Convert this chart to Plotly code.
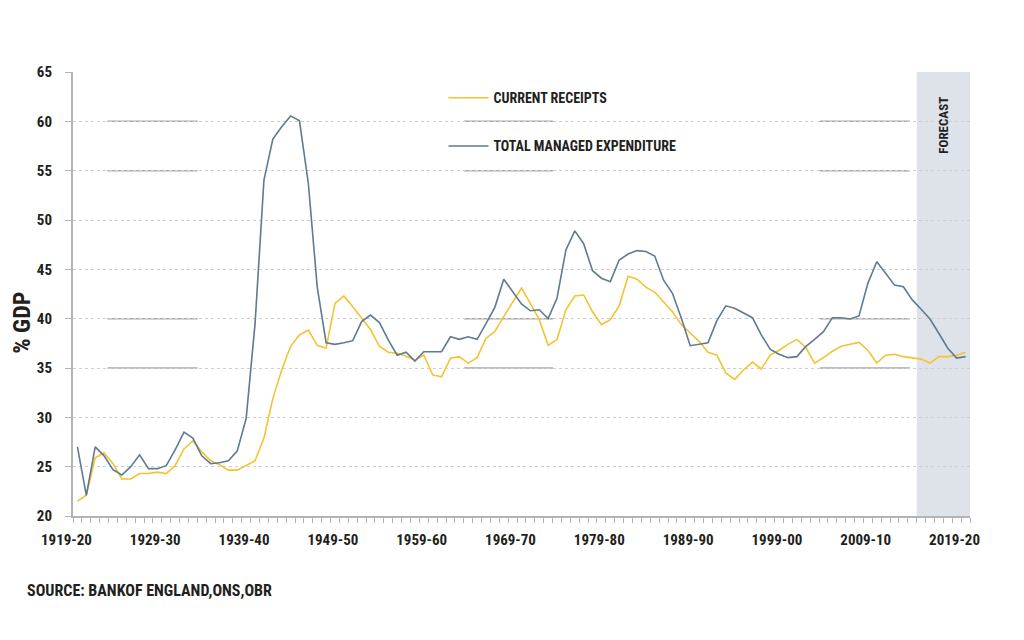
import plotly.graph_objects as go

# Fiscal years 1919-20 ... 2019-20
start_years = list(range(1919, 2020))
fiscal_years = [f"{y}-{str(y + 1)[-2:]}" for y in start_years]

current_receipts = [
    21.5, 22.1, 25.9, 26.4, 25.3, 23.75, 23.75, 24.3, 24.3, 24.45,
    24.3, 25.1, 26.8, 27.6, 26.5, 25.6, 25.2, 24.65, 24.65, 25.1,
    25.6, 27.9, 31.9, 34.8, 37.2, 38.35, 38.85, 37.3, 37.0, 41.55,
    42.3, 41.2, 40.0, 38.9, 37.2, 36.6, 36.5, 36.2, 35.8, 36.3,
    34.3, 34.1, 36.0, 36.15, 35.5, 36.05, 38.0, 38.7, 40.2, 41.7,
    43.1, 41.55, 39.9, 37.3, 37.9, 40.9, 42.3, 42.4, 40.7, 39.4,
    39.9, 41.3, 44.3, 44.0, 43.2, 42.7, 41.7, 40.7, 39.4, 38.5,
    37.7, 36.6, 36.3, 34.5, 33.85, 34.8, 35.6, 34.9, 36.3, 36.8,
    37.4, 37.9, 37.1, 35.5, 36.05, 36.7, 37.2, 37.4, 37.6, 36.8,
    35.5, 36.3, 36.4, 36.15, 36.05, 35.9, 35.5, 36.15, 36.15, 36.3,
    36.6,
]

total_managed_expenditure = [
    27.0, 22.1, 27.0, 26.1, 24.7, 24.15, 25.0, 26.2, 24.8, 24.8,
    25.1, 26.7, 28.5, 27.9, 26.1, 25.3, 25.4, 25.6, 26.6, 29.9,
    39.5, 54.05, 58.2, 59.45, 60.55, 60.05, 53.7, 43.2, 37.56, 37.4,
    37.56, 37.77, 39.7, 40.37, 39.6, 37.84, 36.3, 36.6, 35.7, 36.65,
    36.65, 36.65, 38.17, 37.9, 38.17, 37.9, 39.5, 41.15, 44.0, 42.75,
    41.5, 40.8, 40.9, 40.0, 42.1, 46.96, 48.9, 47.6, 44.86, 44.1,
    43.75, 45.95, 46.55, 46.9, 46.8, 46.35, 43.9, 42.57, 40.04, 37.26,
    37.4, 37.56, 39.8, 41.3, 41.05, 40.54, 40.1, 38.35, 36.9, 36.4,
    36.05, 36.15, 37.16, 37.9, 38.68, 40.1, 40.1, 39.97, 40.27, 43.58,
    45.77, 44.6, 43.4, 43.24, 41.9, 40.95, 39.97, 38.5, 37.0, 36.0,
    36.15,
]

forecast_start_year = 2014  # forecast from 2014-15 onwards
label_step = 10

FONT = "Roboto Condensed, Liberation Sans Narrow, DejaVu Sans Condensed, sans-serif"
TXT = "#231f20"
YELLOW = "#F5C232"
BLUE = "#5E7B90"
AXIS = "#b3b3b3"

idx = list(range(len(start_years)))
fs_idx = start_years.index(forecast_start_year)

fig = go.Figure()
fig.add_trace(go.Scatter(
    x=idx, y=current_receipts, mode="lines", name="CURRENT RECEIPTS",
    line=dict(color=YELLOW, width=1.6), legendgroup="a",
    customdata=fiscal_years, hovertemplate="%{customdata}: %{y}<extra></extra>",
))
fig.add_trace(go.Scatter(
    x=idx, y=total_managed_expenditure, mode="lines", name="TOTAL MANAGED EXPENDITURE",
    line=dict(color=BLUE, width=1.6), legendgroup="b",
    customdata=fiscal_years, hovertemplate="%{customdata}: %{y}<extra></extra>",
))

# Forecast shading
fig.add_shape(type="rect", xref="x", yref="y", x0=fs_idx - 0.5, x1=len(idx) - 0.5,
              y0=20, y1=65, fillcolor="#dde3e9", line=dict(width=0), layer="below")
fig.add_annotation(x=(fs_idx - 0.5 + len(idx) - 0.5) / 2, y=59.6, xref="x", yref="y",
                   text="FORECAST", textangle=-90, showarrow=False,
                   font=dict(family=FONT, size=13, color=TXT, weight="bold"))

# Darker stretches seen on some gridlines of the original
for gy in (60, 55, 40, 35):
    for x0, x1 in ((0.0385, 0.1388), (0.4359, 0.5351), (0.8328, 0.9331)):
        fig.add_shape(type="line", xref="paper", yref="y", x0=x0, x1=x1, y0=gy, y1=gy,
                      line=dict(color="#a9a9a9", width=1.5), layer="below")

# Y axis title
fig.add_annotation(x=-0.057, y=0.435, xref="paper", yref="paper", text="% GDP",
                   textangle=-90, showarrow=False, xanchor="center", yanchor="middle",
                   font=dict(family=FONT, size=24, color=TXT, weight="bold"))
# Source
fig.add_annotation(x=-0.0535, y=-0.167, xref="paper", yref="paper",
                   text="SOURCE: BANKOF ENGLAND,ONS,OBR", showarrow=False,
                   xanchor="left", yanchor="middle",
                   font=dict(family=FONT, size=16, color=TXT, weight="bold"))

tickvals = idx[::label_step]
ticktext = fiscal_years[::label_step]

fig.update_layout(
    width=1024, height=640,
    margin=dict(l=73, r=54, t=72, b=124),
    paper_bgcolor="white", plot_bgcolor="white",
    font=dict(family=FONT, color=TXT),
    showlegend=True,
    legend=dict(x=0.413, y=0.977, xanchor="left", yanchor="top",
                bgcolor="rgba(0,0,0,0)", borderwidth=0,
                tracegroupgap=27, itemwidth=40,
                font=dict(family=FONT, size=14, color=TXT, weight="bold")),
    xaxis=dict(
        range=[-0.5, len(idx) - 0.5], tickmode="array", tickvals=tickvals, ticktext=ticktext,
        ticks="", showgrid=False, zeroline=False,
        showline=True, linecolor=AXIS, linewidth=1.5,
        ticklabelshift=-11, ticklabelstandoff=9,
        tickfont=dict(family=FONT, size=15, color=TXT, weight="bold"),
        minor=dict(tick0=-0.5, dtick=1, ticks="outside", ticklen=5, tickcolor=AXIS,
                   tickwidth=1, showgrid=False),
    ),
    yaxis=dict(
        range=[20, 65], dtick=5, tick0=20, ticks="outside", ticklen=6, tickcolor=AXIS,
        showline=True, linecolor=AXIS, linewidth=2,
        showgrid=True, gridcolor="#cfcfcf", griddash="dot", gridwidth=1,
        zeroline=False, ticklabelstandoff=10,
        tickfont=dict(family=FONT, size=15, color=TXT, weight="bold"),
    ),
)

fig.write_html("out.html")
